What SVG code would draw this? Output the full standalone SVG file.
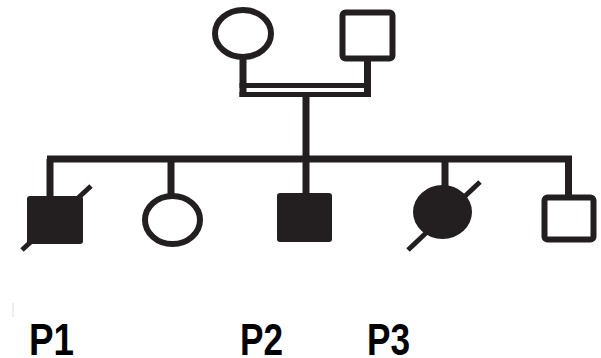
<svg xmlns="http://www.w3.org/2000/svg" width="601" height="358" viewBox="0 0 601 358">
  <style>
    .ln { stroke: #231f20; stroke-width: 7; fill: none; stroke-linecap: butt; }
    .dbl { stroke: #231f20; stroke-width: 5; fill: none; }
    .open { stroke: #231f20; stroke-width: 6; fill: #fff; }
    .filled { fill: #231f20; }
    .slash { stroke: #231f20; stroke-width: 5; }
    .lbl { font-family: "Liberation Sans", Arial, sans-serif; font-weight: bold; font-size: 45px; fill: #000; }
  </style>
  <rect width="601" height="358" fill="#fff"/>

  <!-- connectors -->
  <g id="connectors">
    <path class="ln" d="M243 58 V97 M367.5 60 V97"/>
    <path class="dbl" d="M239.5 85.5 H371 M239.5 94.5 H371"/>
    <path class="ln" d="M306 97 V159"/>
    <path class="ln" d="M47 159 H572"/>
    <path class="ln" d="M50 159 V197 M171 159 V194 M306 159 V194 M445 159 V188 M568.5 159 V196"/>
  </g>

  <!-- parents -->
  <g id="mother"><ellipse class="open" cx="243" cy="33.5" rx="28" ry="23.5"/></g>
  <g id="father"><rect class="open" x="342.5" y="12.5" width="50" height="46" rx="3"/></g>

  <!-- children -->
  <g id="p1">
    <rect class="filled" x="27" y="196" width="56" height="48" rx="3"/>
    <line class="slash" x1="22" y1="250" x2="91" y2="186"/>
  </g>
  <g id="sister"><ellipse class="open" cx="172.5" cy="220" rx="27.5" ry="24"/></g>
  <g id="p2"><rect class="filled" x="277" y="193" width="55" height="49" rx="3"/></g>
  <g id="p3">
    <ellipse class="filled" cx="442.5" cy="212" rx="29.5" ry="27"/>
    <line class="slash" x1="408" y1="250" x2="480" y2="182"/>
  </g>
  <g id="brother"><rect class="open" x="544.5" y="197.5" width="49" height="42" rx="3"/></g>

  <!-- labels -->
  <line x1="13" y1="303" x2="13" y2="317" stroke="#ddd" stroke-width="1"/>
  <text class="lbl" x="29" y="355" textLength="45" lengthAdjust="spacingAndGlyphs">P1</text>
  <text class="lbl" x="240" y="355" textLength="43" lengthAdjust="spacingAndGlyphs">P2</text>
  <text class="lbl" x="367" y="355" textLength="43" lengthAdjust="spacingAndGlyphs">P3</text>
</svg>
